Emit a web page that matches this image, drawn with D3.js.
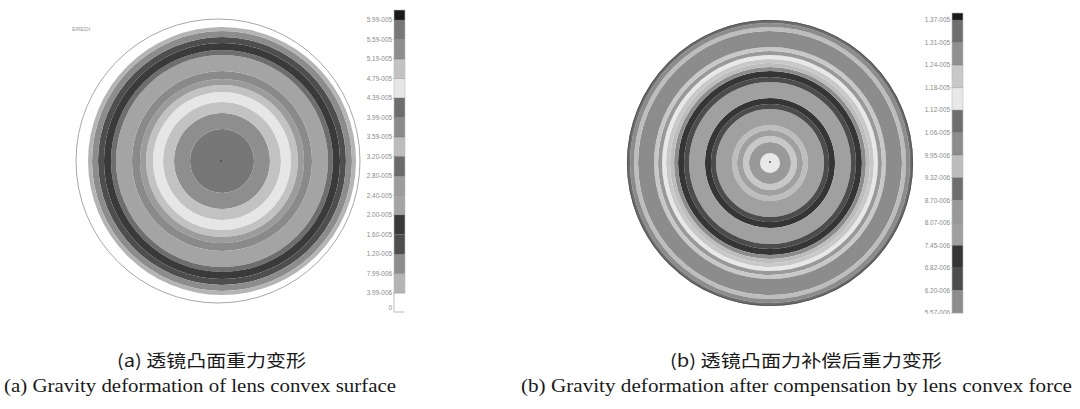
<!DOCTYPE html>
<html><head><meta charset="utf-8">
<script src="https://cdn.jsdelivr.net/npm/d3@7"></script>
<style>body{margin:0;background:#fff} svg{display:block}</style>
</head><body>
<svg id="c" width="1080" height="409"></svg>
<script>
// ---------------- data ----------------
const leftLegendLabels = ["5.99-005","5.59-005","5.19-005","4.79-005","4.39-005","3.99-005","3.59-005","3.20-005","2.80-005","2.40-005","2.00-005","1.60-005","1.20-005","7.99-006","3.99-006"];
const leftZeroLabel = "0";
const leftLegendLevels = [0,1,2,3,4,5,6,7,8,9,10,11,12,13];
const rightLegendLabels = ["1.37-005","1.31-005","1.24-005","1.18-005","1.12-005","1.06-005","9.95-006","9.32-006","8.70-006","8.07-006","7.45-006","6.82-006","6.20-006","5.57-006"];
const rightLegendLevels = [0,1,2,3,4,5,6,7,8,9,10,11,12];
// contour rings: outer radius (fraction of lens radius) and contour level
const leftRingOuter = [0.239,0.358,0.440,0.515,0.567,0.612,0.672,0.791,0.828,0.881,0.925,0.970,1.0];
const leftRingLevel = [0,1,2,3,2,8,5,9,4,10,11,12,13];
const rightRingOuter = [0.070,0.147,0.189,0.231,0.266,0.378,0.413,0.455,0.566,0.601,0.643,0.671,0.699,0.727,0.755,0.783,0.811,0.923,0.951,0.979,1.0];
const rightRingLevel = [3,8,2,9,6,9,11,10,9,11,10,12,6,2,3,8,2,12,6,5,4];
const panelTag = "EREDI";
const captionsZh = ["(a) 透镜凸面重力变形","(b) 透镜凸面力补偿后重力变形"];
const captionsEn = ["(a) Gravity deformation of lens convex surface","(b) Gravity deformation after compensation by lens convex force"];

// ---------------- styles ----------------
const leftPalette = ["#777777","#8e8e8e","#c2c2c2","#e6e6e6","#6e6e6e","#8a8a8a","#bcbcbc","#6b6b6b","#9c9c9c","#a4a4a4","#3a3a3a","#4e4e4e","#8c8c8c","#b4b4b4"];
const rightPalette = ["#6e6e6e","#909090","#c8c8c8","#e8e8e8","#6e6e6e","#8c8c8c","#bdbdbd","#6e6e6e","#999999","#a0a0a0","#353535","#4c4c4c","#8c8c8c"];
const capColor = "#1a1a1a";

const svg = d3.select("#c");

function drawLens(cx, cy, R, outer, levels, palette) {
  const r = d3.scaleLinear().domain([0,1]).range([0,R]);
  const arc = d3.arc().startAngle(0).endAngle(2*Math.PI);
  const rings = outer.map((o,i)=>({inner: i===0?0:outer[i-1], outer:o, level:levels[i]}));
  const g = svg.append("g").attr("transform",`translate(${cx},${cy})`);
  g.selectAll("path").data(rings).join("path")
    .attr("d", d=>arc({innerRadius:r(d.inner), outerRadius:r(d.outer)}))
    .attr("fill", d=>palette[d.level]);
  return g;
}

function drawLegend(x, yTop, yBottom, capTop, labels, levels, palette, labelX) {
  const n = labels.length - 1;
  const y = d3.scaleLinear().domain([0,n]).range([yTop,yBottom]);
  const g = svg.append("g");
  g.append("rect").attr("x",x).attr("y",capTop).attr("width",11).attr("height",yTop-capTop).attr("fill",capColor);
  g.selectAll("rect.seg").data(levels).join("rect").attr("class","seg")
    .attr("x",x).attr("y",(d,i)=>y(i)).attr("width",11).attr("height",(d,i)=>y(i+1)-y(i))
    .attr("fill",d=>palette[d]);
  g.selectAll("line.b").data(labels).join("line").attr("class","b")
    .attr("x1",x-1).attr("x2",x+11).attr("y1",(d,i)=>y(i)).attr("y2",(d,i)=>y(i))
    .attr("stroke","#666").attr("stroke-opacity",0.45).attr("stroke-width",0.8);
  g.append("rect").attr("x",x).attr("y",capTop).attr("width",11).attr("height",yBottom-capTop)
    .attr("fill","none").attr("stroke","#bbb").attr("stroke-width",0.6);
  g.selectAll("text").data(labels).join("text")
    .attr("x",labelX).attr("y",(d,i)=>y(i)+2.3)
    .attr("text-anchor","end").attr("font-family","Liberation Sans, Arial, sans-serif")
    .attr("font-size",6.4).attr("fill","#8a8a8a").text(d=>d);
  return {g,y};
}

// ---- left panel ----
svg.append("circle").attr("cx",218).attr("cy",161).attr("r",142)
  .attr("fill","none").attr("stroke","#a8a8a8").attr("stroke-width",1);
drawLens(222,161,134,leftRingOuter,leftRingLevel,leftPalette);
svg.append("circle").attr("cx",221).attr("cy",161).attr("r",0.9).attr("fill","#444");
svg.append("text").attr("x",72).attr("y",31).attr("font-family","Liberation Sans, Arial, sans-serif")
  .attr("font-size",6).attr("fill","#999").text(panelTag);
const L = drawLegend(394,20,293,10,leftLegendLabels,leftLegendLevels,leftPalette,392);
L.g.append("text").attr("x",392).attr("y",309.5).attr("text-anchor","end")
  .attr("font-family","Liberation Sans, Arial, sans-serif").attr("font-size",6.4).attr("fill","#8a8a8a").text(leftZeroLabel);
L.g.append("path").attr("d","M394,293V312H404").attr("fill","none").attr("stroke","#aaa").attr("stroke-width",0.8);

// ---- right panel ----
drawLens(770,163,143,rightRingOuter,rightRingLevel,rightPalette);
svg.append("circle").attr("cx",770).attr("cy",163).attr("r",142.5)
  .attr("fill","none").attr("stroke","#5a5a5a").attr("stroke-width",1.2);
svg.append("circle").attr("cx",770).attr("cy",162).attr("r",0.9).attr("fill","#444");
svg.append("defs").append("clipPath").attr("id","rclip").append("rect")
  .attr("x",880).attr("y",0).attr("width",200).attr("height",314);
const R = drawLegend(952,20,313,13,rightLegendLabels,rightLegendLevels,rightPalette,950);
R.g.attr("clip-path","url(#rclip)");

// ---- captions ----
const capZhX = [117,670], capZhW = [189,272];
const capEnX = [4,521], capEnW = [392,551];
svg.selectAll("text.zh").data(captionsZh).join("text").attr("class","zh")
  .attr("x",(d,i)=>capZhX[i]).attr("y",367)
  .attr("font-family","Noto Sans CJK SC, sans-serif").attr("font-size",17).attr("fill","#1a1a1a")
  .attr("textLength",(d,i)=>capZhW[i]).attr("lengthAdjust","spacingAndGlyphs").text(d=>d);
svg.selectAll("text.en").data(captionsEn).join("text").attr("class","en")
  .attr("x",(d,i)=>capEnX[i]).attr("y",392)
  .attr("font-family","Liberation Serif, Times New Roman, serif").attr("font-size",18.5).attr("fill","#1a1a1a")
  .attr("textLength",(d,i)=>capEnW[i]).attr("lengthAdjust","spacingAndGlyphs").text(d=>d);
</script>
</body></html>
